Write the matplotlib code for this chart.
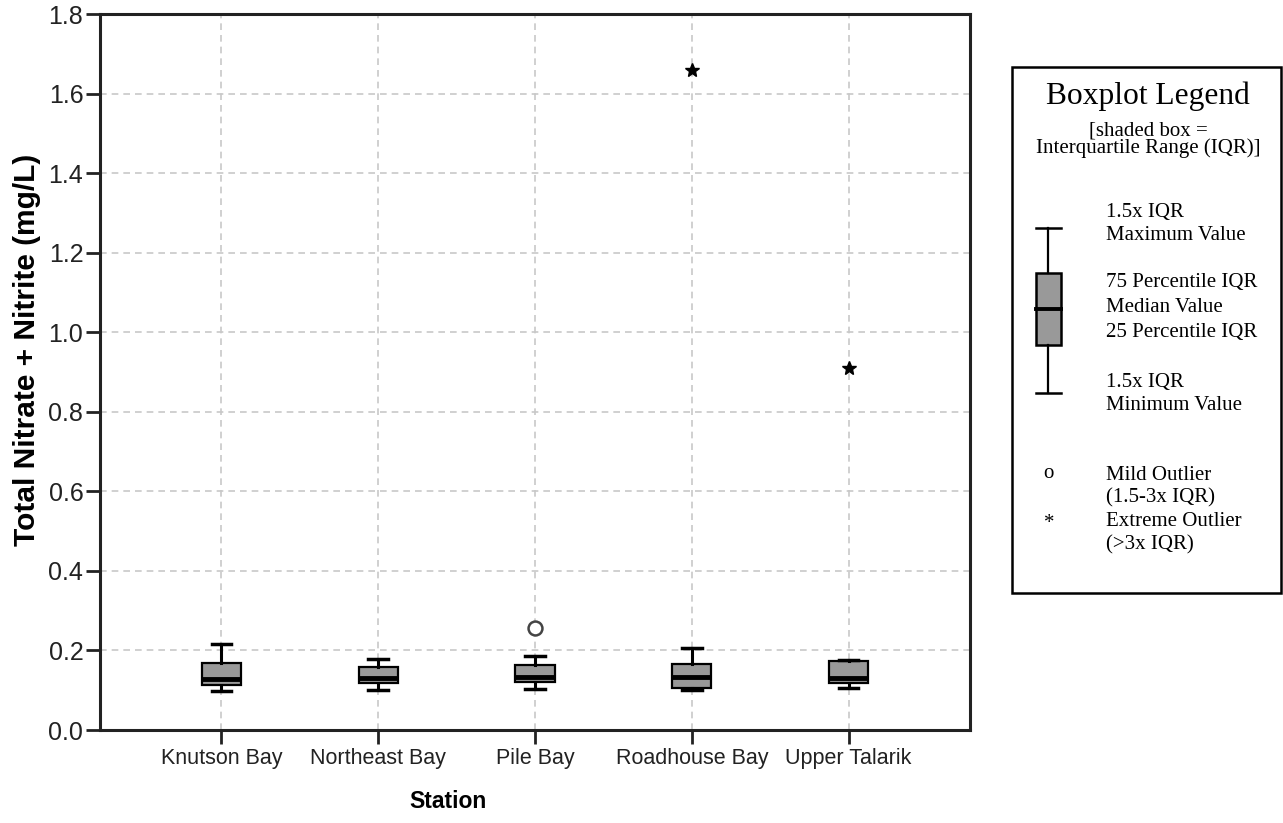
import matplotlib
matplotlib.use("Agg")
import matplotlib.pyplot as plt
from matplotlib.patches import Rectangle
from matplotlib.lines import Line2D

# ---- data ----
stations = ["Knutson Bay", "Northeast Bay", "Pile Bay", "Roadhouse Bay", "Upper Talarik"]
whisker_low = [0.099, 0.100, 0.103, 0.100, 0.105]
q1 = [0.114, 0.117, 0.121, 0.105, 0.117]
median = [0.128, 0.130, 0.134, 0.134, 0.130]
q3 = [0.168, 0.158, 0.163, 0.166, 0.174]
whisker_high = [0.215, 0.178, 0.187, 0.207, 0.177]
mild_outliers = [[], [], [0.256], [], []]
extreme_outliers = [[], [], [], [1.658], [0.909]]
y_ticks = [0.0, 0.2, 0.4, 0.6, 0.8, 1.0, 1.2, 1.4, 1.6, 1.8]

W, H = 1283, 823
fig = plt.figure(figsize=(W / 100, H / 100), dpi=100)
ax = fig.add_axes([100 / W, 1 - 730 / H, (970 - 100) / W, (730 - 14) / H])

stats = []
for i, name in enumerate(stations):
    stats.append(dict(label=name, whislo=whisker_low[i], q1=q1[i], med=median[i],
                      q3=q3[i], whishi=whisker_high[i], fliers=[]))
positions = list(range(len(stations)))
ax.bxp(stats, positions=positions, widths=0.25, capwidths=0.125, patch_artist=True,
       showfliers=False,
       boxprops=dict(facecolor="#999999", edgecolor="black", linewidth=1.6),
       medianprops=dict(color="black", linewidth=3.5, solid_capstyle="butt"),
       whiskerprops=dict(color="black", linewidth=2.2),
       capprops=dict(color="black", linewidth=2.5),
       zorder=3)

for i in positions:
    if mild_outliers[i]:
        ax.plot([i] * len(mild_outliers[i]), mild_outliers[i], linestyle="none", marker="o",
                markersize=10, markerfacecolor="white", markeredgecolor="#444444",
                markeredgewidth=1.8, zorder=4)
    if extreme_outliers[i]:
        ax.plot([i] * len(extreme_outliers[i]), extreme_outliers[i], linestyle="none",
                marker="*", markersize=10, markerfacecolor="black",
                markeredgecolor="black", zorder=4)

ax.set_xlim(-0.775, 4.775)
ax.set_ylim(0, 1.8)
ax.set_yticks(y_ticks)
ax.set_yticklabels([f"{v:.1f}" for v in y_ticks])
ax.set_xticks(positions)
ax.set_xticklabels(stations)

ax.grid(True, which="major", axis="both", linestyle=(0, (4, 3)), color="#c8c8c8",
        linewidth=1.2, zorder=0)
ax.set_axisbelow(True)
for s in ax.spines.values():
    s.set_linewidth(2.2)
    s.set_color("#222222")

ax.tick_params(axis="y", direction="out", length=10, width=2, color="#222222",
               labelsize=18, labelcolor="#222222", pad=2)
ax.tick_params(axis="x", direction="out", length=10, width=2, color="#222222",
               labelsize=15.5, labelcolor="#222222", pad=3)
for lab in ax.get_yticklabels() + ax.get_xticklabels():
    lab.set_fontfamily("Liberation Sans")

# ---- helpers for figure pixel coordinates ----
def fx(x):
    return x / W

def fy(y):
    return 1 - y / H

tr = fig.transFigure

# axis titles
fig.text(fx(27), fy(350), "Total Nitrate + Nitrite (mg/L)", rotation=90,
         ha="center", va="center", fontsize=21.5, fontweight="bold",
         fontfamily="Liberation Sans", color="black")
fig.text(fx(448), fy(802), "Station", ha="center", va="center", fontsize=16.5,
         fontweight="bold", fontfamily="Liberation Sans", color="black")

# ---- custom legend panel ----
fig.patches.append(Rectangle((fx(1012), fy(593)), fx(1281) - fx(1012), fy(67) - fy(593),
                             transform=tr, fill=False, edgecolor="black", linewidth=1.8))
serif = "Liberation Serif"
fig.text(fx(1148), fy(96), "Boxplot Legend", ha="center", va="center",
         fontsize=22.7, fontfamily=serif)
fig.text(fx(1148), fy(131), "[shaded box =", ha="center", va="center",
         fontsize=15, fontfamily=serif)
fig.text(fx(1148), fy(148), "Interquartile Range (IQR)]", ha="center", va="center",
         fontsize=15, fontfamily=serif)

legend_lines = [
    (213, "1.5x IQR"), (235, "Maximum Value"),
    (283, "75 Percentile IQR"), (308, "Median Value"), (332, "25 Percentile IQR"),
    (382, "1.5x IQR"), (405, "Minimum Value"),
    (475, "Mild Outlier"), (498, "(1.5-3x IQR)"),
    (522, "Extreme Outlier"), (545, "(>3x IQR)"),
]
for yy, txt in legend_lines:
    fig.text(fx(1106), fy(yy), txt, ha="left", va="center", fontsize=15, fontfamily=serif)
fig.text(fx(1048), fy(474), "o", ha="center", va="center", fontsize=15, fontfamily=serif)
fig.text(fx(1049), fy(524), "*", ha="center", va="center", fontsize=15, fontfamily=serif)

# legend glyph of a boxplot
fig.lines.append(Line2D([fx(1048), fx(1048)], [fy(228), fy(273)], transform=tr,
                        color="black", linewidth=1.6))
fig.lines.append(Line2D([fx(1048), fx(1048)], [fy(345), fy(393)], transform=tr,
                        color="black", linewidth=1.6))
fig.lines.append(Line2D([fx(1036), fx(1061)], [fy(228), fy(228)], transform=tr,
                        color="black", linewidth=1.8))
fig.lines.append(Line2D([fx(1036), fx(1061)], [fy(393), fy(393)], transform=tr,
                        color="black", linewidth=1.8))
fig.patches.append(Rectangle((fx(1036), fy(345)), fx(1061) - fx(1036), fy(273) - fy(345),
                             transform=tr, facecolor="#999999", edgecolor="black",
                             linewidth=1.8))
fig.lines.append(Line2D([fx(1036), fx(1061)], [fy(309), fy(309)], transform=tr,
                        color="black", linewidth=2.8))

fig.savefig("out.png", dpi=100, facecolor="white")
